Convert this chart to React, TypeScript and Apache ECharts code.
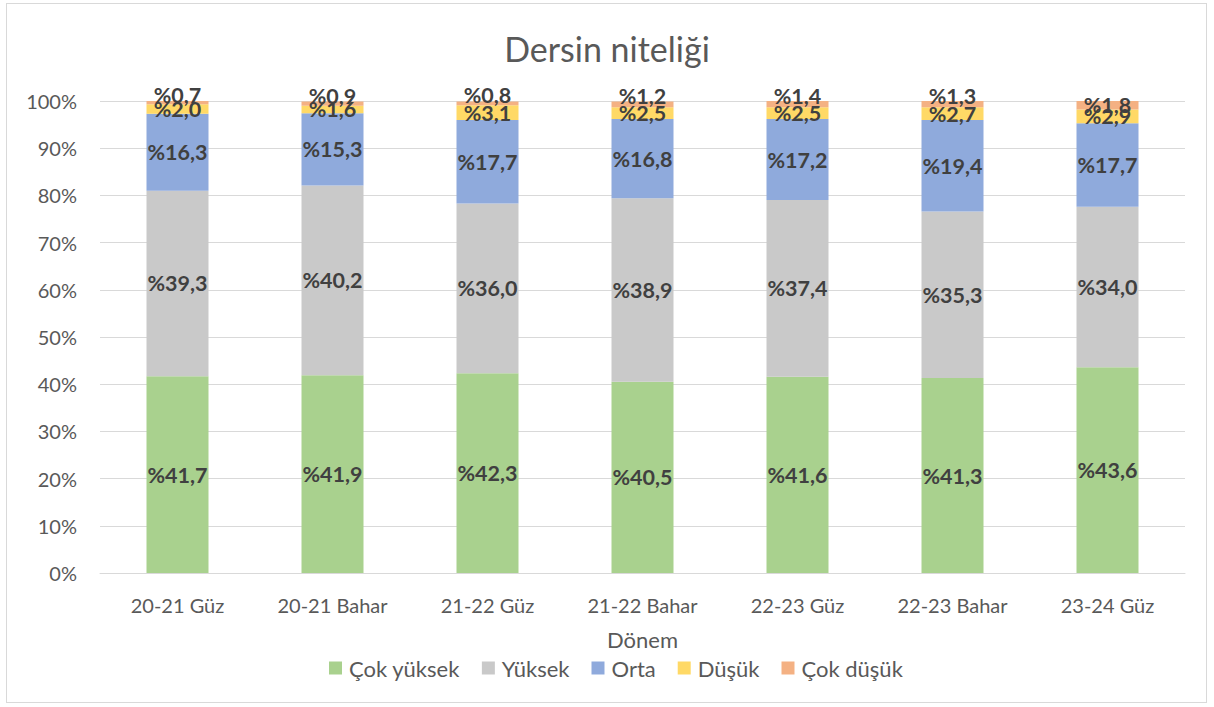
import React, { useEffect, useRef } from "react";
import * as echarts from "echarts";

const categories = ["20-21 Güz", "20-21 Bahar", "21-22 Güz", "21-22 Bahar", "22-23 Güz", "22-23 Bahar", "23-24 Güz"];
const cokYuksek = [41.7, 41.9, 42.3, 40.5, 41.6, 41.3, 43.6];
const yuksek = [39.3, 40.2, 36.0, 38.9, 37.4, 35.3, 34.0];
const orta = [16.3, 15.3, 17.7, 16.8, 17.2, 19.4, 17.7];
const dusuk = [2.0, 1.6, 3.1, 2.5, 2.5, 2.7, 2.9];
const cokDusuk = [0.7, 0.9, 0.8, 1.2, 1.4, 1.3, 1.8];
const seriesNames = ["Çok yüksek", "Yüksek", "Orta", "Düşük", "Çok düşük"];
const colors = ["#A9D18E", "#C9C9C9", "#8FAADC", "#FFD966", "#F4B183"];
// vertical nudges of the top ("Çok düşük") labels, as placed in the original
const topLabelShift = [-8, -8, -8, -8, -8, -8, 0];

const FONT = "Lato, 'Liberation Sans', sans-serif";

export default function App() {
  const ref = useRef<HTMLDivElement>(null);
  useEffect(() => {
    if (!ref.current) return;
    const chart = echarts.init(ref.current, undefined, { renderer: "svg" });
    const data = [cokYuksek, yuksek, orta, dusuk, cokDusuk];
    chart.setOption({
      animation: false,
      textStyle: { fontFamily: FONT },
      title: {
        text: "Dersin niteliği",
        left: "center",
        top: 26,
        textStyle: { fontSize: 34, fontWeight: "normal", color: "#595959", fontFamily: FONT },
      },
      grid: { left: 100, right: 29, top: 101, bottom: 134 },
      legend: {
        bottom: 23,
        left: 324,
        itemWidth: 13,
        itemHeight: 13,
        itemGap: 22,
        icon: "rect",
        textStyle: { fontSize: 22, color: "#595959", fontFamily: FONT, padding: [0, 0, 0, 2] },
        data: seriesNames,
      },
      xAxis: {
        type: "category",
        data: categories,
        name: "Dönem",
        nameLocation: "middle",
        nameGap: 55,
        nameTextStyle: { fontSize: 22, color: "#595959", fontFamily: FONT },
        axisLine: { lineStyle: { color: "#D9D9D9" } },
        axisTick: { show: false },
        axisLabel: { fontSize: 20, color: "#595959", margin: 22, fontFamily: FONT },
      },
      yAxis: {
        type: "value",
        min: 0,
        max: 100,
        interval: 10,
        axisLine: { show: false },
        axisTick: { show: false },
        splitLine: { lineStyle: { color: "#D9D9D9" } },
        axisLabel: { fontSize: 20, color: "#595959", margin: 23, formatter: (v: number) => v + "%", fontFamily: FONT },
      },
      series: seriesNames.map((name, i) => ({
        name,
        type: "bar",
        stack: "total",
        barWidth: "40%",
        itemStyle: { color: colors[i] },
        label: {
          show: true,
          position: "inside",
          formatter: (p: any) => "%" + p.value.toFixed(1).replace(".", ","),
          fontSize: 21.5,
          fontWeight: "bold",
          color: "#404040",
          fontFamily: FONT,
        },
        data: data[i].map((v, j) =>
          i === 4 ? { value: v, label: { offset: [0, topLabelShift[j]] } } : v
        ),
      })),
    });
    return () => chart.dispose();
  }, []);
  return (
    <div
      style={{
        position: "fixed",
        left: 0,
        top: 0,
        width: 1214,
        height: 707,
        background: "#fff",
      }}
    >
      <div
        style={{
          position: "absolute",
          left: 6,
          top: 3,
          width: 1201,
          height: 700,
          border: "1px solid #D9D9D9",
          boxSizing: "border-box",
        }}
      />
      <div ref={ref} style={{ position: "absolute", left: 0, top: 0, width: 1214, height: 707 }} />
    </div>
  );
}
